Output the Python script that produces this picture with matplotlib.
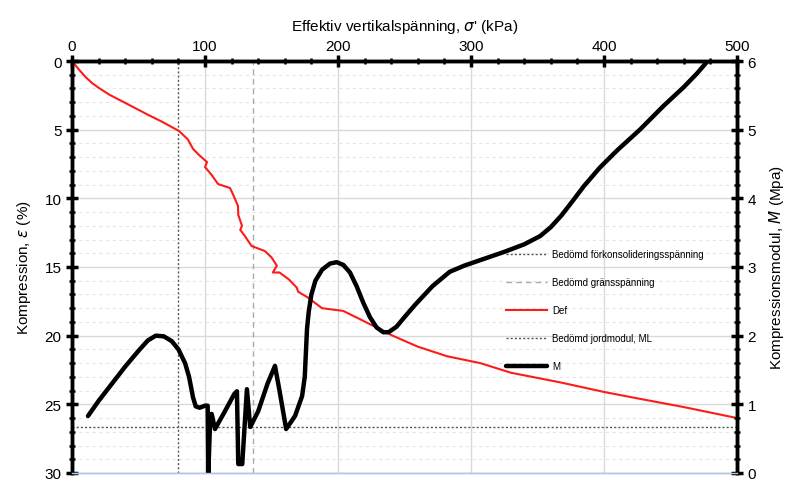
import numpy as np
import matplotlib.pyplot as plt
from matplotlib.ticker import MultipleLocator

plt.rcParams['font.family'] = ['Liberation Sans', 'DejaVu Sans']

# Def: effektiv spänning (kPa) och kompression (%)
def_sigma = [0, 5, 10, 15, 20, 28, 40, 56, 68, 80.5, 87, 91, 95, 101.5, 100, 105, 109.8,
             118.8, 121, 124.8, 125, 127.8, 126.5, 130, 135, 145, 150, 154, 151, 156,
             163, 169, 170, 177, 188, 204, 216.5, 241, 260, 282, 307, 330, 367, 400,
             427, 460, 500]
def_eps = [0, 0.6, 1.15, 1.6, 1.95, 2.45, 3.05, 3.86, 4.44, 5.1, 5.7, 6.4, 6.8, 7.36, 7.72,
           8.3, 8.96, 9.25, 9.7, 10.56, 11.2, 12.0, 12.3, 12.75, 13.47, 13.84, 14.3, 14.9,
           15.4, 15.4, 15.9, 16.5, 16.8, 17.2, 18.0, 18.2, 18.8, 20.0, 20.8, 21.5,
           22.0, 22.7, 23.4, 24.1, 24.6, 25.2, 26.0]

# M: kompressionsmodul (MPa)
m_sigma = [12, 20, 30, 40, 50, 57, 63, 69, 75, 80, 85, 88, 91, 93, 96, 100, 102, 102.5,
           104, 105, 107.5, 115, 122, 124, 125, 128, 131.5, 134, 140, 147, 152.6, 156,
           161, 167.7, 173, 175, 176.7, 178, 180, 183, 188, 194, 199, 204, 209, 214, 219,
           224, 229, 234, 238, 244, 250, 258, 271, 284, 295, 310, 325, 340, 352, 360,
           368, 376, 385, 397, 410, 427, 445, 460, 470, 478]
m_val = [0.83, 1.05, 1.3, 1.55, 1.78, 1.93, 2.0, 1.99, 1.92, 1.8, 1.6, 1.4, 1.1, 0.97,
         0.95, 0.98, 0.98, 0.0, 0.85, 0.86, 0.64, 0.9, 1.15, 1.19, 0.13, 0.13, 1.22, 0.67,
         0.9, 1.3, 1.56, 1.2, 0.64, 0.83, 1.12, 1.4, 2.1, 2.35, 2.6, 2.8, 2.96, 3.05,
         3.07, 3.03, 2.92, 2.72, 2.48, 2.27, 2.12, 2.05, 2.05, 2.13, 2.27, 2.45, 2.72,
         2.93, 3.02, 3.12, 3.22, 3.33, 3.45, 3.58, 3.75, 3.95, 4.18, 4.45, 4.7, 5.0,
         5.35, 5.62, 5.82, 6.0]

sigma_pc = 80      # förkonsolideringsspänning
sigma_gr = 136     # gränsspänning
m_l = 0.67         # jordmodul ML

fig = plt.figure(figsize=(7.95, 4.81), dpi=100)
ax = fig.add_axes([0.0906, 0.0146, 0.8364, 0.8565])
ax2 = ax.twinx()

ax.set_xlim(0, 500)
ax.set_ylim(30, 0)
ax2.set_ylim(0, 6)

ax.yaxis.grid(True, which='major', color='#d9d9d9', lw=1)
ax.yaxis.grid(True, which='minor', color='#e6e6e6', lw=0.8, ls=(0, (3, 3)))
ax.xaxis.grid(True, which='major', color='#d9d9d9', lw=1)
ax.set_axisbelow(True)

h1 = ax.axvline(sigma_pc, color='#555555', lw=1, ls=(0, (1.5, 1.5)))
h2 = ax.axvline(sigma_gr, color='#aaaaaa', lw=1, ls=(0, (4, 3)))
h3, = ax.plot(def_sigma, def_eps, color='#ff1a1a', lw=1.5)
h4 = ax2.axhline(m_l, color='#555555', lw=1, ls=(0, (1.5, 1.5)))
h5, = ax2.plot(m_sigma, m_val, color='black', lw=3.2, solid_capstyle='round',
               solid_joinstyle='round')

ax.xaxis.tick_top()
ax.xaxis.set_label_position('top')
ax.xaxis.set_major_locator(MultipleLocator(100))
ax.xaxis.set_minor_locator(MultipleLocator(20))
ax.yaxis.set_major_locator(MultipleLocator(5))
ax.yaxis.set_minor_locator(MultipleLocator(1))
ax2.yaxis.set_major_locator(MultipleLocator(1))
ax2.yaxis.set_minor_locator(MultipleLocator(0.2))

for a in (ax, ax2):
    a.tick_params(which='major', direction='inout', length=8, width=2.5, labelsize=11)
    a.tick_params(which='minor', direction='inout', length=5, width=1.8)
    for s in ('left', 'right', 'top'):
        a.spines[s].set_linewidth(2.5)
    a.spines['bottom'].set_color('#a9cbe8')
    a.spines['bottom'].set_linewidth(1)
ax.tick_params(axis='x', pad=2)

ax.set_xlabel("Effektiv vertikalspänning, $\\sigma$' (kPa)", fontsize=11, labelpad=6)
ax.set_ylabel('Kompression, $\\varepsilon$ (%)', fontsize=11, labelpad=8)
ax2.set_ylabel('Kompressionsmodul, $M$ (Mpa)', fontsize=11, labelpad=8)

ax2.legend([h1, h2, h3, h4, h5],
           ['Bedömd förkonsolideringsspänning', 'Bedömd gränsspänning', 'Def',
            'Bedömd jordmodul, ML', 'M'],
           loc='upper left', bbox_to_anchor=(0.64, 0.565), frameon=False, fontsize=7,
           handlelength=4.2, handletextpad=0.5, labelspacing=1.85)

fig.savefig('out.png', dpi=100)
